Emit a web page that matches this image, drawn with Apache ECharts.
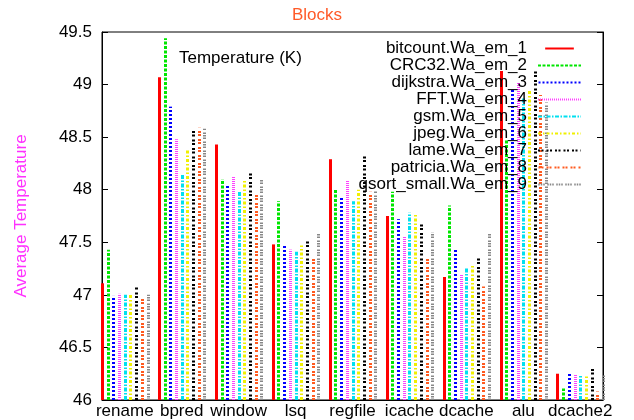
<!DOCTYPE html>
<html>
<head>
<meta charset="utf-8">
<script src="https://cdn.jsdelivr.net/npm/echarts@6/dist/echarts.min.js"></script>
<style>html,body{margin:0;padding:0;background:#fff;}#chart{width:634px;height:420px;}</style>
</head>
<body>
<div id="chart"></div>
<script>
const categories = ['rename', 'bpred', 'window', 'lsq', 'regfile', 'icache', 'dcache', 'alu', 'dcache2'];
const seriesNames = ['bitcount.Wa_em_1', 'CRC32.Wa_em_2', 'dijkstra.Wa_em_3', 'FFT.Wa_em_4', 'gsm.Wa_em_5', 'jpeg.Wa_em_6', 'lame.Wa_em_7', 'patricia.Wa_em_8', 'qsort_small.Wa_em_9'];
const bitcount = [47.11, 49.07, 48.43, 47.48, 48.29, 47.75, 47.17, 49.13, 46.25];
const crc32    = [47.43, 49.44, 48.10, 47.89, 48.01, 47.98, 47.85, 48.48, 46.11];
const dijkstra = [46.99, 48.79, 48.05, 47.48, 47.94, 47.72, 47.43, 48.95, 46.26];
const fft      = [47.01, 48.48, 48.13, 47.43, 48.09, 47.56, 47.19, 49.02, 46.24];
const gsm      = [47.00, 48.14, 47.99, 47.41, 47.89, 47.78, 47.25, 48.88, 46.23];
const jpeg     = [47.01, 48.39, 48.10, 47.47, 48.00, 47.76, 47.29, 48.94, 46.24];
const lame     = [47.08, 48.58, 48.17, 47.52, 48.33, 47.68, 47.35, 49.15, 46.30];
const patricia = [46.96, 48.59, 47.97, 47.34, 47.98, 47.34, 47.08, 48.90, 46.08];
const qsort    = [47.00, 48.58, 48.10, 47.58, 47.99, 47.59, 47.58, 48.83, 46.25];
const yTicks = [46, 46.5, 47, 47.5, 48, 48.5, 49, 49.5];

const allValues = [bitcount, crc32, dijkstra, fft, gsm, jpeg, lame, patricia, qsort];
const colors = ['#ff0000', '#00e600', '#0000ff', '#ff40ff', '#00e0f0', '#f0f000', '#000000', '#ff5a1f', '#888888'];
const dashes = [null, [3, 1.5], [2, 2], [1, 1], [4, 1.5, 1.5, 1.5], [3, 2, 1.5, 2], [2, 1.5, 2, 3], [2, 1, 2, 3], [1.5, 1, 1.5, 1, 1.5, 2.5]];
const widths = [3, 3, 3, 3, 3, 3, 3, 3, 3];
const base = 46;
const slot = 0.1;

function dashPath(dash, w, h) {
  if (!dash) return 'path://M0,0H' + w + 'V' + h + 'H0Z';
  let x = 0, i = 0, parts = [];
  while (x < w) {
    const len = dash[i % dash.length];
    if (i % 2 === 0) {
      const e = Math.min(x + len, w);
      parts.push('M' + x + ',0H' + e + 'V' + h + 'H' + x + 'Z');
    }
    x += len; i++;
  }
  return 'path://' + parts.join('');
}

const font = '"Liberation Sans", Arial, sans-serif';
const chart = echarts.init(document.getElementById('chart'), null, {renderer: 'canvas'});

const series = allValues.map((vals, j) => ({
  name: seriesNames[j],
  type: 'custom',
  xAxisIndex: 0,
  yAxisIndex: 0,
  itemStyle: {color: colors[j]},
  data: vals.map((v, i) => [i, v]),
  encode: {x: 0, y: 1},
  renderItem: function (params, api) {
    const x = api.value(0) + (j - 4) * slot;
    const p0 = api.coord([x, base]);
    const p1 = api.coord([x, api.value(1)]);
    const px = Math.round(p0[0]) + (widths[j] % 2 ? 0.5 : 0);
    return {
      type: 'line',
      shape: {x1: px, y1: Math.round(p0[1]), x2: px, y2: p1[1]},
      style: {stroke: colors[j], lineWidth: widths[j], lineDash: dashes[j] || null, fill: null}
    };
  }
}));

const option = {
  animation: false,
  backgroundColor: '#fff',
  title: [
    {text: 'Blocks', left: 'center', top: 7, padding: 0,
     textStyle: {color: '#ff5a28', fontFamily: font, fontSize: 17, fontWeight: 'normal'}},
    {text: 'Temperature (K)', left: 179, top: 50, padding: 0,
     textStyle: {color: '#000', fontFamily: font, fontSize: 17, fontWeight: 'normal'}}
  ],
  grid: {left: 102, right: 31, top: 32, bottom: 20, show: true, borderColor: '#000', borderWidth: 1, backgroundColor: 'transparent'},
  legend: {
    orient: 'vertical',
    align: 'right',
    right: 48,
    top: 35,
    itemWidth: 43,
    itemHeight: 2,
    itemGap: 0,
    textStyle: {fontFamily: font, fontSize: 17, color: '#000', lineHeight: 17, padding: [0, 6, 0, 0]},
    data: seriesNames.map((n, j) => ({name: n, icon: dashPath(dashes[j], 43, j === 0 ? 3 : 2), itemStyle: {color: colors[j]}}))
  },
  xAxis: [{
    type: 'value',
    min: -0.4,
    max: 8.4,
    axisLine: {show: true, onZero: false, lineStyle: {color: '#000', width: 1}},
    axisTick: {show: false},
    splitLine: {show: false},
    axisLabel: {
      show: true,
      customValues: categories.map((c, i) => i),
      formatter: v => categories[Math.round(v)] || '',
      color: '#000', fontFamily: font, fontSize: 17, margin: 3
    }
  }],
  yAxis: [{
    type: 'value',
    min: 46, max: 49.5, interval: 0.5,
    name: 'Average Temperature',
    nameLocation: 'middle',
    nameRotate: 90,
    nameGap: 72,
    nameTextStyle: {color: '#ff30ff', fontFamily: font, fontSize: 17},
    axisLine: {show: true, onZero: false, lineStyle: {color: '#000'}},
    axisTick: {show: true, inside: true, length: 6, lineStyle: {color: '#000'}},
    splitLine: {show: false},
    axisLabel: {color: '#000', fontFamily: font, fontSize: 17, margin: 10,
      customValues: yTicks}
  }, {
    type: 'value',
    position: 'right',
    min: 46, max: 49.5, interval: 0.5,
    axisLine: {show: true, onZero: false, lineStyle: {color: '#000'}},
    axisTick: {show: true, inside: true, length: 6, lineStyle: {color: '#000'}},
    splitLine: {show: false},
    axisLabel: {show: false}
  }],
  series: series
};
chart.setOption(option);
</script>
</body>
</html>
